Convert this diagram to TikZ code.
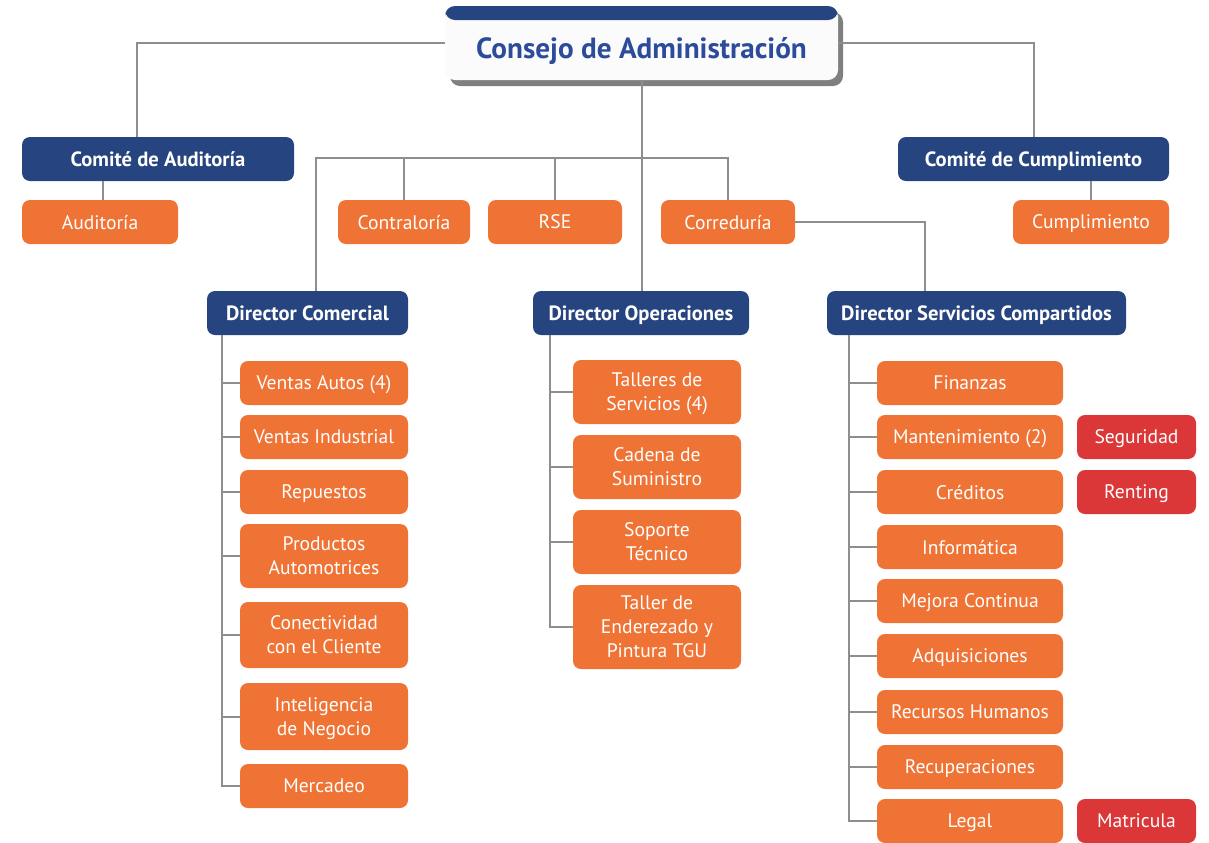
\documentclass[tikz,border=0pt]{standalone}
\usepackage{fontspec}
\setmainfont{PT Sans}
\usetikzlibrary{shadows}
\definecolor{dkblue}{HTML}{26447F}
\definecolor{ttblue}{HTML}{2C4C9B}
\definecolor{orng}{HTML}{F07336}
\definecolor{redb}{HTML}{DC3738}
\definecolor{lgray}{HTML}{8E8E8E}
\tikzset{
  base/.style={rounded corners=4pt, inner sep=0pt, align=center, text=white, text depth=0pt, font=\fontsize{9.8}{12}\selectfont},
  hdr/.style={base, fill=dkblue, font=\fontsize{10.3}{12}\selectfont\bfseries},
  org/.style={base, fill=orng},
  red/.style={base, fill=redb},
  conn/.style={draw=lgray, line width=1pt},
}
\newcommand{\obox}[7]{\node[#6, minimum width={(#4-#2)*0.5pt}, minimum height={(#5-#3)*0.5pt}] (#1) at ({(#2+#4)/2},{(#3+#5)/2}) {#7};}
\begin{document}
\begin{tikzpicture}[x=0.5pt,y=-0.5pt]
\useasboundingbox (0,0) rectangle (1209,842);
\coordinate (bus) at (640,158);
% boxes
\node[rounded corners=5pt, fill=white!97!gray, minimum width=196.5pt, minimum height=37pt, inner sep=0pt,
  drop shadow={shadow xshift=2.5pt, shadow yshift=-3pt, fill=black, opacity=0.5},
  path picture={\fill[dkblue] (path picture bounding box.north west) rectangle ([yshift=-7pt]path picture bounding box.north east);},
  label={[yshift=-2.6pt, text=ttblue, text depth=0pt, font=\fontsize{14.6}{16}\selectfont\bfseries]center:Consejo de Administración}] (title) at (641.5,43) {};
\obox{ca}{22}{137}{294}{181}{hdr}{Comité de Auditoría}
\obox{cc}{898}{137}{1169}{181}{hdr}{Comité de Cumplimiento}
\obox{aud}{22}{200}{178}{244}{org}{Auditoría}
\obox{cum}{1013}{200}{1169}{244}{org}{Cumplimiento}
\obox{con}{338}{200}{470}{244}{org}{Contraloría}
\obox{rse}{488}{200}{622}{244}{org}{RSE}
\obox{cor}{661}{200}{795}{244}{org}{Correduría}
\obox{dcom}{207}{291}{408}{335}{hdr}{Director Comercial}
\obox{dop}{533}{291}{749}{335}{hdr}{Director Operaciones}
\obox{dsc}{827}{291}{1126}{335}{hdr}{Director Servicios Compartidos}
% comercial
\obox{c1}{240}{361}{408}{405}{org}{Ventas Autos (4)}
\obox{c2}{240}{415}{408}{459}{org}{Ventas Industrial}
\obox{c3}{240}{470}{408}{514}{org}{Repuestos}
\obox{c4}{240}{524}{408}{588}{org}{Productos\\Automotrices}
\obox{c5}{240}{602}{408}{668}{org}{Conectividad\\con el Cliente}
\obox{c6}{240}{683}{408}{750}{org}{Inteligencia\\de Negocio}
\obox{c7}{240}{764}{408}{808}{org}{Mercadeo}
% operaciones
\obox{o1}{573}{360}{741}{424}{org}{Talleres de\\Servicios (4)}
\obox{o2}{573}{435}{741}{499}{org}{Cadena de\\Suministro}
\obox{o3}{573}{510}{741}{574}{org}{Soporte\\Técnico}
\obox{o4}{573}{585}{741}{669}{org}{Taller de\\Enderezado y\\Pintura TGU}
% servicios
\obox{s1}{877}{361}{1063}{405}{org}{Finanzas}
\obox{s2}{877}{415}{1063}{459}{org}{Mantenimiento (2)}
\obox{s3}{877}{470}{1063}{514}{org}{Créditos}
\obox{s4}{877}{525}{1063}{569}{org}{Informática}
\obox{s5}{877}{579}{1063}{623}{org}{Mejora Continua}
\obox{s6}{877}{634}{1063}{678}{org}{Adquisiciones}
\obox{s7}{877}{690}{1063}{734}{org}{Recursos Humanos}
\obox{s8}{877}{745}{1063}{789}{org}{Recuperaciones}
\obox{s9}{877}{799}{1063}{843}{org}{Legal}
\obox{r1}{1077}{415}{1196}{459}{red}{Seguridad}
\obox{r2}{1077}{470}{1196}{514}{red}{Renting}
\obox{r3}{1077}{799}{1196}{843}{red}{Matricula}
% connectors
\draw[conn] (title.west) -| ([xshift=-10.5pt]ca.north);
\draw[conn] (title.east) -| ([xshift=0.25pt]cc.north);
\draw[conn] (title.south) -- (title.south |- dop.north);
\draw[conn] ([xshift=1.5pt]aud.north) -- ([xshift=1.5pt]aud.north |- ca.south);
\draw[conn] (cum.north) -- (cum.north |- cc.south);
\draw[conn] ([xshift=4.25pt]dcom.north) |- (cor.north |- bus) -- (cor.north);
\draw[conn] (con.north) -- (con.north |- bus);
\draw[conn] (rse.north) -- (rse.north |- bus);
\draw[conn] (cor.east) -| ([xshift=-25.75pt]dsc.north);
% spines
\coordinate (sc) at (222,335);
\coordinate (so) at (550,335);
\coordinate (ss) at (849,335);
\draw[conn] (sc) |- (c7.west);
\foreach \n in {c1,c2,c3,c4,c5,c6} \draw[conn] (\n.west) -- (\n.west -| sc);
\draw[conn] (so) |- (o4.west);
\foreach \n in {o1,o2,o3} \draw[conn] (\n.west) -- (\n.west -| so);
\draw[conn] (ss) |- (s9.west);
\foreach \n in {s1,s2,s3,s4,s5,s6,s7,s8} \draw[conn] (\n.west) -- (\n.west -| ss);
\end{tikzpicture}
\end{document}
